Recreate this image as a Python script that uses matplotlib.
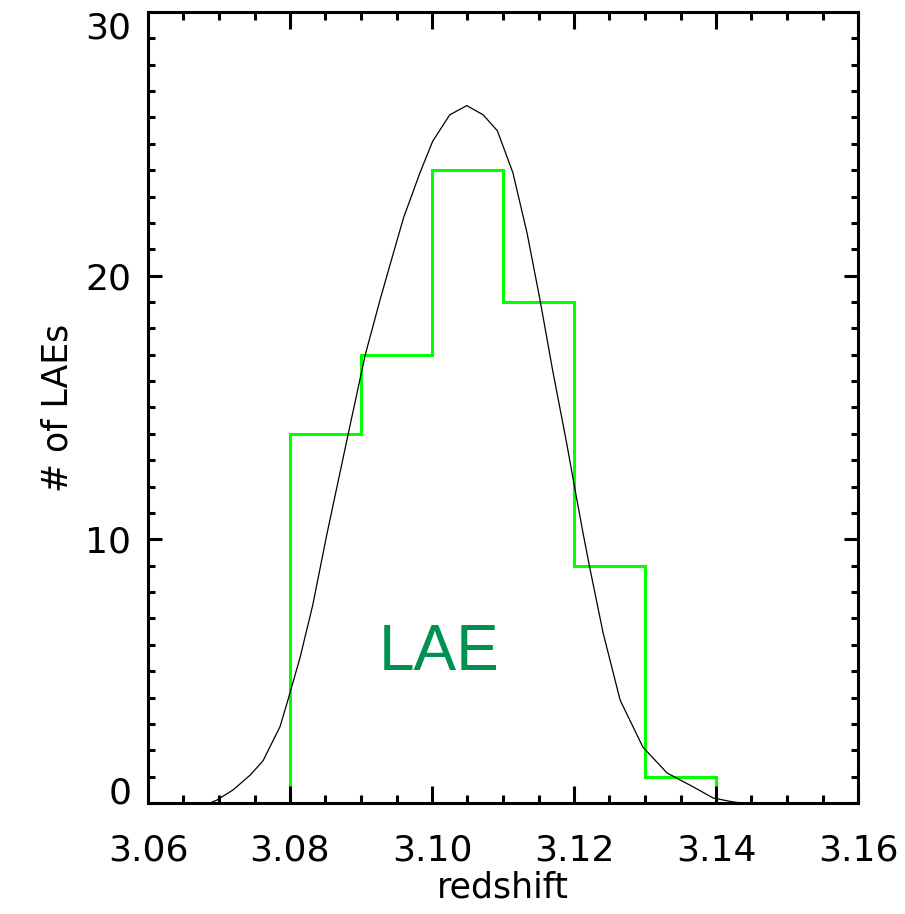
import numpy as np
import matplotlib
matplotlib.use("Agg")
import matplotlib.pyplot as plt
import matplotlib.transforms as mtransforms
from matplotlib.ticker import MultipleLocator

# histogram of LAE redshifts (bin edges, counts)
bin_edges = [3.075, 3.08, 3.09, 3.10, 3.11, 3.12, 3.13, 3.14, 3.145]
counts = [0, 14, 17, 24, 19, 9, 1, 0]

# smoothed curve
curve_z = [3.0673, 3.0687, 3.0697, 3.0720, 3.0744, 3.0762, 3.0786, 3.0797,
           3.0814, 3.0832, 3.0852, 3.0882, 3.0906, 3.0927, 3.0945, 3.0960,
           3.0983, 3.1001, 3.1025, 3.1049, 3.1072, 3.1092, 3.1114, 3.1134,
           3.1152, 3.1170, 3.1190, 3.1200, 3.1213, 3.1222, 3.1241, 3.1265,
           3.1297, 3.1331, 3.1368, 3.1396, 3.1424, 3.1437]
curve_n = [0.0, 0.0, 0.11, 0.5, 1.06, 1.6, 2.9, 3.9,
           5.5, 7.5, 10.2, 14.0, 17.0, 19.1, 20.8, 22.2,
           23.9, 25.1, 26.1, 26.45, 26.1, 25.5, 23.9, 21.6,
           19.1, 16.4, 13.6, 12.1, 10.2, 8.95, 6.45, 3.9,
           2.12, 1.14, 0.61, 0.19, 0.04, 0.0]

xticks = [3.06, 3.08, 3.10, 3.12, 3.14, 3.16]
xtick_labels = ["3.06", "3.08", "3.10", "3.12", "3.14", "3.16"]
yticks = [0, 10, 20, 30]

fig = plt.figure(figsize=(9.05, 9.14), dpi=100)
ax = fig.add_axes([148 / 905, 1 - 803 / 914, 710 / 905, 791 / 914])

ax.plot(curve_z, curve_n, color="black", lw=0.9)
ax.stairs(counts, bin_edges, color="#00ff00", lw=2.2, baseline=None)

ax.set_xlim(3.06, 3.16)
ax.set_ylim(0, 30)
ax.set_xticks(xticks)
ax.set_xticklabels(xtick_labels)
ax.set_yticks(yticks)
ax.xaxis.set_minor_locator(MultipleLocator(0.005))
ax.yaxis.set_minor_locator(MultipleLocator(1))

ax.tick_params(which="both", direction="in", top=True, right=True, width=2.2,
               labelsize=26)
ax.tick_params(axis="x", which="major", length=12, pad=22)
ax.tick_params(axis="x", which="minor", length=6)
ax.tick_params(axis="y", which="major", length=10, pad=12)
ax.tick_params(axis="y", which="minor", length=5)
for s in ax.spines.values():
    s.set_linewidth(2.2)

# IDL-style: end labels nudged inside the axis range
ylabs = ax.get_yticklabels()
ylabs[0].set_transform(ylabs[0].get_transform() +
                       mtransforms.ScaledTranslation(0, 13 / 100, fig.dpi_scale_trans))
ylabs[-1].set_transform(ylabs[-1].get_transform() +
                        mtransforms.ScaledTranslation(0, -13 / 100, fig.dpi_scale_trans))

ax.set_xlabel("redshift", fontsize=25, labelpad=2)
ax.set_ylabel("# of LAEs", fontsize=25, labelpad=8)

ax.text(3.101, 5.7, "LAE", color="#009150", fontsize=46,
        family="Liberation Sans", ha="center", va="center")

fig.savefig("out.png", dpi=100)
